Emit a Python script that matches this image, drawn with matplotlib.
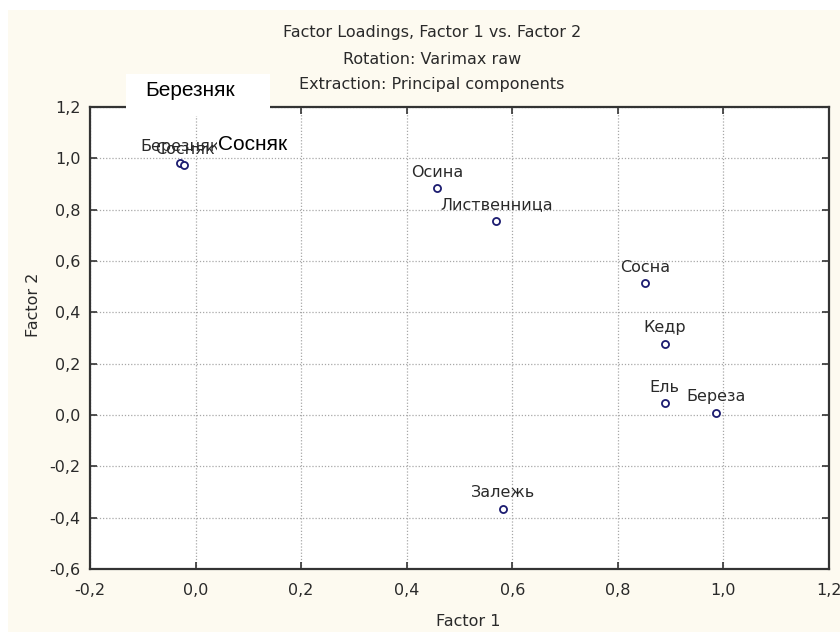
import matplotlib
matplotlib.use("Agg")
import matplotlib.pyplot as plt
from matplotlib.patches import Rectangle
from matplotlib.ticker import FuncFormatter

plt.rcParams["font.family"] = ["DejaVu Sans"]

# Factor loadings (Varimax raw rotation)
names = ["Березняк", "Сосняк", "Осина", "Лиственница", "Сосна", "Кедр",
         "Ель", "Береза", "Залежь"]
factor1 = [-0.030, -0.021, 0.458, 0.570, 0.851, 0.889, 0.889, 0.986, 0.583]
factor2 = [0.983, 0.974, 0.883, 0.756, 0.513, 0.277, 0.045, 0.009, -0.366]

x_ticks = [-0.2, 0.0, 0.2, 0.4, 0.6, 0.8, 1.0, 1.2]
y_ticks = [-0.6, -0.4, -0.2, 0.0, 0.2, 0.4, 0.6, 0.8, 1.0, 1.2]

title_lines = ["Factor Loadings, Factor 1 vs. Factor 2",
               "Rotation: Varimax raw",
               "Extraction: Principal components"]
callouts = ["Березняк", "Сосняк"]

W, H = 840, 635
fig = plt.figure(figsize=(W / 100, H / 100), dpi=100, facecolor="white")

def fx(px):
    return px / W

def fy(py):
    return 1 - py / H

# cream panel behind the chart
fig.patches.append(Rectangle((fx(8), fy(632)), fx(832), (632 - 10) / H,
                             transform=fig.transFigure, facecolor="#fdfaf0",
                             edgecolor="none", zorder=-5))

left, right, top, bottom = 90, 829, 107, 569
ax = fig.add_axes([fx(left), fy(bottom), (right - left) / W, (bottom - top) / H])
ax.set_facecolor("white")
ax.set_zorder(1)

txt = "#2a2a2a"
fs = 11.5
ax.set_xlim(x_ticks[0], x_ticks[-1])
ax.set_ylim(y_ticks[0], y_ticks[-1])
ax.set_xticks(x_ticks)
ax.set_yticks(y_ticks)
comma = FuncFormatter(lambda v, p: f"{v:.1f}".replace(".", ",").replace("−", "-"))
ax.xaxis.set_major_formatter(comma)
ax.yaxis.set_major_formatter(comma)
ax.tick_params(direction="in", length=5, width=1.2, color="#333333",
               labelsize=fs, labelcolor=txt, top=True, right=True)
ax.tick_params(axis="x", pad=10)
ax.tick_params(axis="y", pad=7)
for s in ax.spines.values():
    s.set_linewidth(1.6)
    s.set_color("#333333")
ax.grid(True, linestyle=(0, (1, 1.5)), color="#a8a8a8", linewidth=0.9)
ax.set_axisbelow(True)

ax.scatter(factor1, factor2, s=26, facecolors="white", edgecolors="#1c1c70",
           linewidths=1.3, zorder=3)
for n, x, y in zip(names, factor1, factor2):
    ax.annotate(n, (x, y), xytext=(0, 11.5), textcoords="offset points",
                ha="center", va="center", fontsize=fs, color=txt, zorder=4)

# axis titles
fig.text(fx(468), fy(622), "Factor 1", ha="center", va="center",
         fontsize=fs, color=txt)
fig.text(fx(33), fy(305), "Factor 2", ha="center", va="center",
         rotation=90, fontsize=fs, color=txt)

for line, ypx in zip(title_lines, [33, 60, 84]):
    fig.text(fx(432), fy(ypx), line, ha="center", va="center",
             fontsize=fs, color=txt)

# callout labels on top of the chart
fig.patches.append(Rectangle((fx(126), fy(116)), fx(144), 42 / H,
                             transform=fig.transFigure, facecolor="white",
                             edgecolor="none", zorder=10))
fig.text(fx(145), fy(90), callouts[0], ha="left", va="center",
         fontsize=15, family="Liberation Sans", color="black", zorder=11)
fig.text(fx(218), fy(144), callouts[1], ha="left", va="center",
         fontsize=15, family="Liberation Sans", color="black", zorder=11,
         bbox=dict(facecolor="white", edgecolor="none", pad=0.5))

fig.savefig("out.png", dpi=100, facecolor=fig.get_facecolor())
